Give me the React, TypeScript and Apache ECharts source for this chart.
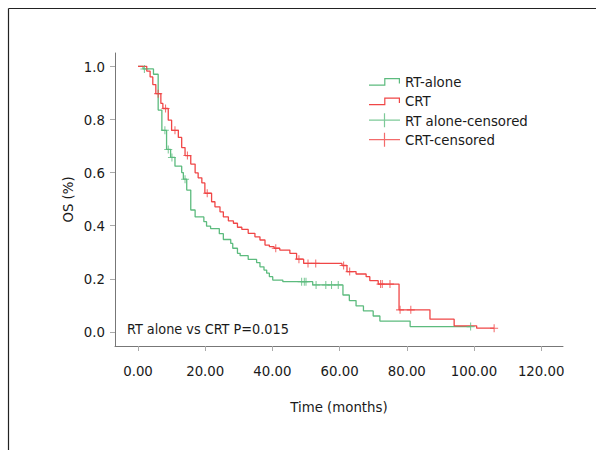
import React, { useEffect, useRef } from "react";
import * as echarts from "echarts";

// Kaplan–Meier step data (time in months, survival after each drop)
const crtTimes = [0, 2.6, 3.6, 4.4, 5.3, 6.8, 7.4, 9.0, 10.0, 12.0, 13.0, 14.0, 15.7, 17.0, 17.9, 19.0, 19.9, 21.9, 22.9, 24.4, 25.4, 26.9, 28.4, 29.6, 30.9, 32.8, 34.8, 36.3, 37.8, 39.1, 40.5, 42.2, 45.2, 47.2, 49.3, 60.7, 62.2, 64.9, 67.9, 69.0, 71.5, 77.7, 86.9, 94.1, 100.8, 106.0];
const crtSurv = [1.0, 0.982, 0.96, 0.931, 0.897, 0.86, 0.841, 0.797, 0.759, 0.732, 0.694, 0.664, 0.632, 0.599, 0.58, 0.561, 0.522, 0.49, 0.471, 0.452, 0.433, 0.418, 0.409, 0.394, 0.386, 0.371, 0.358, 0.346, 0.327, 0.321, 0.315, 0.308, 0.296, 0.274, 0.258, 0.25, 0.227, 0.218, 0.208, 0.193, 0.18, 0.083, 0.048, 0.023, 0.014, 0.014];
const crtCensored = [6.0, 8.2, 11.0, 14.7, 20.6, 41.0, 47.9, 50.6, 52.9, 61.2, 63.0, 72.2, 72.7, 75.0, 78.0, 81.2, 106.0];

const rtTimes = [0, 1.5, 4.6, 6.0, 7.1, 8.5, 9.7, 11.0, 13.0, 13.5, 14.5, 15.7, 17.0, 19.6, 20.4, 21.6, 24.2, 25.4, 27.6, 28.2, 29.6, 30.4, 32.8, 35.3, 36.3, 37.5, 38.3, 39.1, 40.1, 43.1, 52.0, 61.0, 62.9, 64.9, 67.1, 70.0, 72.0, 81.0, 99.0];
const rtSurv = [1.0, 0.99, 0.97, 0.835, 0.759, 0.687, 0.657, 0.624, 0.6, 0.575, 0.534, 0.459, 0.433, 0.415, 0.398, 0.389, 0.37, 0.348, 0.333, 0.315, 0.296, 0.287, 0.273, 0.261, 0.245, 0.233, 0.221, 0.208, 0.195, 0.189, 0.177, 0.139, 0.118, 0.098, 0.079, 0.06, 0.041, 0.02, 0.02];
const rtCensored = [1.9, 8.0, 9.0, 10.1, 14.0, 48.7, 49.5, 50.0, 53.0, 55.9, 57.6, 59.6, 99.0];

const xTicks = [0, 20, 40, 60, 80, 100, 120];
const yTicks = [0, 0.2, 0.4, 0.6, 0.8, 1.0];

const seriesNames = ["RT-alone", "CRT", "RT alone-censored", "CRT-censored"];
const annotation = "RT alone vs CRT P=0.015";

const GREEN = "#5cbb7e";
const RED = "#f04646";
const FONT = "'Liberation Sans Narrow', 'Arial Narrow', 'DejaVu Sans Condensed', sans-serif";
const FS = 14.8;

const PLUS = "path://M-0.13,-1H0.13V-0.13H1V0.13H0.13V1H-0.13V0.13H-1V-0.13H-0.13Z";
const STEP_ICON = "path://M0,0M31,14M0,10.4H15.2V3.9H31V9.4H29.8V5.1H16.4V11.6H0Z";
const CENS_ICON = "path://M0,0M31,14M0,6.4H14.9V0H16.1V6.4H31V7.6H16.1V14H14.9V7.6H0Z";

function curve(times: number[], surv: number[]) {
  return times.map((t, i) => [t, surv[i]]);
}

function censorPoints(times: number[], surv: number[], cens: number[]) {
  return cens.map((c) => {
    let s = surv[0];
    for (let i = 0; i < times.length; i++) {
      if (times[i] <= c) s = surv[i];
    }
    return [c, s];
  });
}

export default function App() {
  const ref = useRef<HTMLDivElement>(null);

  useEffect(() => {
    if (!ref.current) return;
    const chart = echarts.init(ref.current, undefined, { renderer: "svg" });
    const option: any = {
      animation: false,
      backgroundColor: "#ffffff",
      textStyle: { fontFamily: FONT },
      grid: { left: 115, right: 33, top: 53, bottom: 104, containLabel: false, outerBoundsMode: "none" },
      xAxis: {
        type: "value",
        min: -6.85,
        max: 126.5,
        name: "Time (months)",
        nameLocation: "middle",
        nameGap: 53,
        nameMoveOverlap: false,
        nameTextStyle: { fontSize: FS, color: "#1a1a1a", fontFamily: FONT },
        axisLine: { show: true, onZero: false, lineStyle: { color: "#777", width: 1 } },
        axisTick: { show: true, customValues: xTicks, length: 5, lineStyle: { color: "#aaa" } },
        axisLabel: {
          customValues: xTicks,
          formatter: (v: number) => v.toFixed(2),
          fontSize: FS,
          color: "#1a1a1a",
          margin: 17,
          fontFamily: FONT,
        },
        splitLine: { show: false },
      },
      yAxis: {
        type: "value",
        min: -0.053,
        max: 1.05,
        name: "OS (%)",
        nameLocation: "middle",
        nameGap: 40,
        nameMoveOverlap: false,
        nameTextStyle: { fontSize: FS, color: "#1a1a1a", fontFamily: FONT },
        axisLine: { show: true, onZero: false, lineStyle: { color: "#777", width: 1 } },
        axisTick: { show: true, customValues: yTicks, length: 5, lineStyle: { color: "#aaa" } },
        axisLabel: {
          customValues: yTicks,
          formatter: (v: number) => v.toFixed(1),
          fontSize: FS,
          color: "#1a1a1a",
          margin: 10,
          fontFamily: FONT,
        },
        splitLine: { show: false },
      },
      legend: {
        orient: "vertical",
        left: 369,
        top: 73.7,
        padding: 0,
        itemWidth: 31,
        itemHeight: 14,
        itemGap: 4.5,
        itemStyle: { borderWidth: 0 },
        textStyle: { fontSize: FS, color: "#1a1a1a", fontFamily: FONT, lineHeight: 14 },
        data: [
          { name: seriesNames[0], icon: STEP_ICON },
          { name: seriesNames[1], icon: STEP_ICON },
          { name: seriesNames[2], icon: CENS_ICON },
          { name: seriesNames[3], icon: CENS_ICON },
        ],
      },
      graphic: [
        { type: "line", shape: { x1: 8.5, y1: 8.5, x2: 596, y2: 8.5 }, style: { stroke: "#222", lineWidth: 1.2 } },
        { type: "line", shape: { x1: 8.5, y1: 8.5, x2: 8.5, y2: 450 }, style: { stroke: "#222", lineWidth: 1.2 } },
        {
          type: "text",
          x: 127,
          y: 329,
          style: { text: annotation, fontSize: 14.3, fill: "#1a1a1a", fontFamily: FONT, verticalAlign: "middle" },
        },
      ],
      series: [
        {
          name: seriesNames[0],
          type: "line",
          step: "end",
          showSymbol: false,
          color: GREEN,
          lineStyle: { color: GREEN, width: 1.3 },
          data: curve(rtTimes, rtSurv),
          z: 2,
        },
        {
          name: seriesNames[1],
          type: "line",
          step: "end",
          showSymbol: false,
          color: RED,
          lineStyle: { color: RED, width: 1.3 },
          data: curve(crtTimes, crtSurv),
          z: 3,
        },
        {
          name: seriesNames[2],
          type: "scatter",
          symbol: PLUS,
          symbolSize: 8,
          color: GREEN,
          itemStyle: { color: GREEN },
          data: censorPoints(rtTimes, rtSurv, rtCensored),
          z: 4,
        },
        {
          name: seriesNames[3],
          type: "scatter",
          symbol: PLUS,
          symbolSize: 8,
          color: RED,
          itemStyle: { color: RED },
          data: censorPoints(crtTimes, crtSurv, crtCensored),
          z: 5,
        },
      ],
    };
    chart.setOption(option);
    return () => chart.dispose();
  }, []);

  return (
    <div
      ref={ref}
      style={{ position: "absolute", left: 0, top: 0, width: 596, height: 450, background: "#fff" }}
    />
  );
}
